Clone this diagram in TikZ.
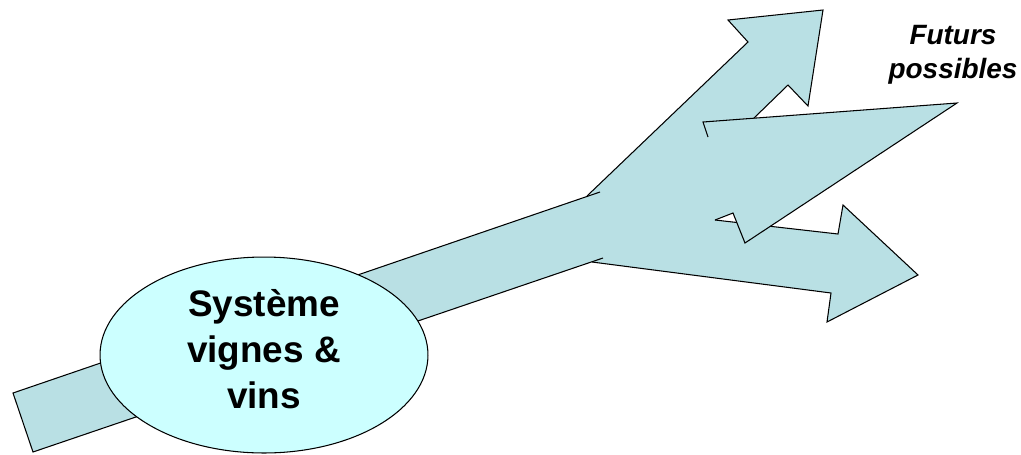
\documentclass[tikz,border=0pt]{standalone}
\usepackage{fontspec}
\setmainfont{Liberation Sans}
\usetikzlibrary{shapes.geometric}
\definecolor{arrfill}{RGB}{185,224,228}
\definecolor{sysfill}{RGB}{204,255,255}

\begin{document}
\begin{tikzpicture}[x=0.02cm, y=-0.02cm,
    arr/.style={fill=arrfill},
    edge/.style={draw, line width=0.6pt, line join=miter},
    sysbg/.style={ellipse, draw, line width=0.6pt, fill=sysfill, minimum width=6.56cm, minimum height=3.92cm},
    syslbl/.style={align=center, inner sep=0pt, font=\fontsize{21}{26.2}\selectfont\bfseries},
    futlbl/.style={align=center, inner sep=0pt, font=\fontsize{15.9}{19.4}\selectfont\bfseries\itshape}
]
    \useasboundingbox (0,0) rectangle (1021,454);

    % Corner points where the branches overlap
    \coordinate (lowA) at (715,220);
    \coordinate (lowB) at (838,234);
    \coordinate (midT) at (957,103);
    \coordinate (midH) at (745,243);
    \coordinate (midN) at (733,213);

    % Fills: trunk, upper and lower branch, then middle branch with the fork
    \fill[arr] (13,393) -- (600,192) -- (603,258) -- (33,452) -- cycle;
    \fill[arr] (587,196) -- (748,42) -- (728,20) -- (823,10) -- (808,106) -- (788,85) -- (754,118) -- (703,122) -- cycle;
    \fill[arr] (592,262) -- (600,215) -- (lowA) -- (lowB) -- (843,205) -- (918,275) -- (827,322) -- (831,293) -- cycle;
    \fill[arr] (588,197) -- (665,122) -- (703,122) -- (midT) -- (midH) -- (midN) -- (lowA) -- (594,261) -- cycle;

    % Visible outlines
    \draw[edge] (600,192) -- (13,393) -- (33,452) -- (603,258);
    \draw[edge] (587,196) -- (748,42) -- (728,20) -- (823,10) -- (808,106) -- (788,85) -- (754,118);
    \draw[edge] (708,137) -- (703,122) -- (midT) -- (midH) -- (midN) -- (lowA);
    \draw[edge] (lowA) -- (intersection of lowA--lowB and midN--midH);
    \draw[edge] (intersection of lowA--lowB and midT--midH) -- (lowB) -- (843,205) -- (918,275) -- (827,322) -- (831,293) -- (592,262);

    % System ellipse
    \node[sysbg] (sys) at (264,355) {};
    \node[syslbl] (syslbl) at (264,349) {Système\\vignes \&\\vins};

    % Label of the futures
    \node[futlbl] (fut) at (953,55) {Futurs\\possibles};
\end{tikzpicture}
\end{document}
